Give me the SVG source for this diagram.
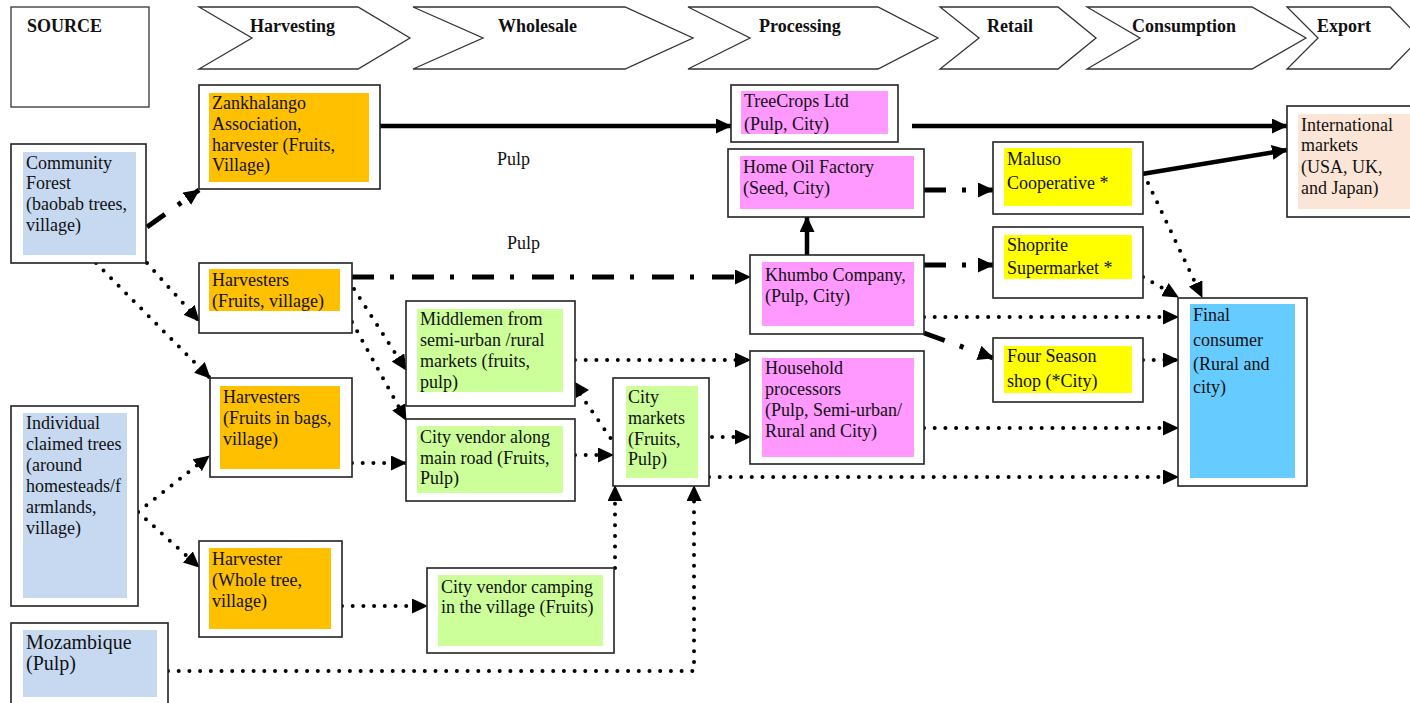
<svg xmlns="http://www.w3.org/2000/svg" width="1410" height="703" viewBox="0 0 1410 703">
<style>
text{font-family:"Liberation Serif","Times New Roman",serif;font-size:18px;fill:#111}
.h{font-weight:bold}
.stage{fill:#fff;stroke:#333;stroke-width:1.3}
.box{fill:#fff;stroke:#222;stroke-width:1.6}
.or{fill:#FFC000}.bl{fill:#C6D9F1}.gr{fill:#CCFF99}.pk{fill:#FF99FF}.ye{fill:#FFFF00}.cy{fill:#66CCFF}.pe{fill:#FBE5D6}
.solid{fill:none;stroke:#000;stroke-width:4.5}
.dd{fill:none;stroke:#000;stroke-width:5;stroke-dasharray:22 16 4 18}
.dot{fill:none;stroke:#000;stroke-width:4;stroke-linecap:round;stroke-dasharray:0 10.7}
</style>
<defs>
<marker id="ah" markerUnits="userSpaceOnUse" viewBox="0 0 16 15" markerWidth="16" markerHeight="15" refX="15" refY="7.5" orient="auto">
<path d="M0,0 L16,7.5 L0,15 z" fill="#000"/>
</marker>
</defs>
<rect width="1410" height="703" fill="#fff"/>

<g id="stages">
<g id="stage-source"><rect class="stage" x="11" y="7" width="138" height="100"/><text class="h" x="27" y="32">SOURCE</text></g>
<g id="stage-harvesting"><polygon class="stage" points="199,7 358,7 410,38 358,69 199,69 252,38"/><text class="h" x="250" y="32">Harvesting</text></g>
<g id="stage-wholesale"><polygon class="stage" points="413,7 625,7 693,38 625,69 413,69 483,38"/><text class="h" x="498" y="32">Wholesale</text></g>
<g id="stage-processing"><polygon class="stage" points="688,7 878,7 938,38 878,69 688,69 750,38"/><text class="h" x="759" y="32">Processing</text></g>
<g id="stage-retail"><polygon class="stage" points="940,7 1058,7 1096,38 1058,69 940,69 979,38"/><text class="h" x="987" y="32">Retail</text></g>
<g id="stage-consumption"><polygon class="stage" points="1087,7 1252,7 1306,38 1252,69 1087,69 1140,38"/><text class="h" x="1132" y="32">Consumption</text></g>
<g id="stage-export"><polygon class="stage" points="1287,7 1390,7 1420,38 1390,69 1287,69 1318,38"/><text class="h" x="1317" y="32">Export</text></g>
</g>

<g id="labels">
<text x="497" y="165">Pulp</text>
<text x="507" y="249">Pulp</text>
</g>

<g id="connectors">
<path class="solid" d="M380,126 L731,126" marker-end="url(#ah)"/>
<path class="solid" d="M912,126 L1287,126" marker-end="url(#ah)"/>
<path class="solid" d="M1142,174 L1287,150" marker-end="url(#ah)"/>
<path class="solid" d="M807,255 L807,217" marker-end="url(#ah)"/>
<path class="dd" d="M147,227 L199,190" marker-end="url(#ah)"/>
<path class="dd" d="M352,277 L750,277" marker-end="url(#ah)"/>
<path class="dd" d="M924,190 L993,190" marker-end="url(#ah)"/>
<path class="dd" d="M924,265 L993,265" marker-end="url(#ah)"/>
<path class="dd" d="M924,333 L993,358" marker-end="url(#ah)"/>
<path class="dot" d="M147,263 L199,321" marker-end="url(#ah)"/>
<path class="dot" d="M96,263 L210,378" marker-end="url(#ah)"/>
<path class="dot" d="M354,289 L406,370" marker-end="url(#ah)"/>
<path class="dot" d="M352,322 L406,420" marker-end="url(#ah)"/>
<path class="dot" d="M352,463 L406,463" marker-end="url(#ah)"/>
<path class="dot" d="M138,512 L209,456" marker-end="url(#ah)"/>
<path class="dot" d="M138,512 L199,567" marker-end="url(#ah)"/>
<path class="dot" d="M342,606 L427,606" marker-end="url(#ah)"/>
<path class="dot" d="M580,394 L614,443"/>
<polygon points="575,382 589,390 576,398" fill="#000"/>
<path class="dot" d="M575,455 L613,455" marker-end="url(#ah)"/>
<path class="dot" d="M615,568 L615,486" marker-end="url(#ah)"/>
<path class="dot" d="M168,671 L694,671 L694,486" marker-end="url(#ah)"/>
<path class="dot" d="M575,360 L750,360" marker-end="url(#ah)"/>
<path class="dot" d="M712,437 L750,437" marker-end="url(#ah)"/>
<path class="dot" d="M709,477 L1178,477" marker-end="url(#ah)"/>
<path class="dot" d="M924,428 L1178,428" marker-end="url(#ah)"/>
<path class="dot" d="M924,317 L1178,317" marker-end="url(#ah)"/>
<path class="dot" d="M1143,360 L1178,360" marker-end="url(#ah)"/>
<path class="dot" d="M1143,277 L1178,297" marker-end="url(#ah)"/>
<path class="dot" d="M1148,183 L1202,297" marker-end="url(#ah)"/>
</g>

<g id="community-forest"><rect class="box" x="11" y="144" width="135" height="119"/><rect class="bl" x="23" y="152" width="113" height="103"/>
<text x="26" y="169">Community</text><text x="26" y="189">Forest</text><text x="26" y="210">(baobab trees,</text><text x="26" y="231">village)</text></g>

<g id="individual-trees"><rect class="box" x="11" y="406" width="127" height="200"/><rect class="bl" x="23" y="413" width="104" height="185"/>
<text x="26" y="429">Individual</text><text x="26" y="450">claimed trees</text><text x="26" y="471">(around</text><text x="26" y="492">homesteads/f</text><text x="26" y="513">armlands,</text><text x="26" y="534">village)</text></g>

<g id="mozambique"><rect class="box" x="11" y="623" width="157" height="90"/><rect class="bl" x="23" y="630" width="134" height="67"/>
<text x="26" y="649" style="font-size:20px">Mozambique</text><text x="26" y="670" style="font-size:20px">(Pulp)</text></g>

<g id="zankhalango"><rect class="box" x="199" y="85" width="181" height="104"/><rect class="or" x="209" y="93" width="160" height="89"/>
<text x="212" y="109">Zankhalango</text><text x="212" y="130">Association,</text><text x="212" y="151">harvester (Fruits,</text><text x="212" y="171">Village)</text></g>

<g id="harvesters-village"><rect class="box" x="199" y="263" width="153" height="70"/><rect class="or" x="209" y="269" width="131" height="42"/>
<text x="212" y="286">Harvesters</text><text x="212" y="307">(Fruits, village)</text></g>

<g id="harvesters-bags"><rect class="box" x="210" y="378" width="142" height="99"/><rect class="or" x="220" y="386" width="120" height="83"/>
<text x="223" y="403">Harvesters</text><text x="223" y="424">(Fruits in bags,</text><text x="223" y="445">village)</text></g>

<g id="harvester-whole-tree"><rect class="box" x="199" y="541" width="143" height="96"/><rect class="or" x="209" y="548" width="122" height="81"/>
<text x="212" y="565">Harvester</text><text x="212" y="586">(Whole tree,</text><text x="212" y="607">village)</text></g>

<g id="middlemen"><rect class="box" x="406" y="301" width="169" height="105"/><rect class="gr" x="417" y="309" width="146" height="83"/>
<text x="420" y="325">Middlemen from</text><text x="420" y="346">semi-urban /rural</text><text x="420" y="367">markets (fruits,</text><text x="420" y="388">pulp)</text></g>

<g id="city-vendor-road"><rect class="box" x="406" y="419" width="169" height="82"/><rect class="gr" x="417" y="426" width="146" height="67"/>
<text x="420" y="443">City vendor along</text><text x="420" y="464">main road (Fruits,</text><text x="420" y="484">Pulp)</text></g>

<g id="city-markets"><rect class="box" x="613" y="378" width="96" height="108"/><rect class="gr" x="626" y="386" width="72" height="92"/>
<text x="628" y="403">City</text><text x="628" y="424">markets</text><text x="628" y="445">(Fruits,</text><text x="628" y="465">Pulp)</text></g>

<g id="city-vendor-camping"><rect class="box" x="427" y="568" width="187" height="85"/><rect class="gr" x="438" y="575" width="165" height="71"/>
<text x="441" y="593">City vendor camping</text><text x="441" y="613">in the village (Fruits)</text></g>

<g id="treecrops"><rect class="box" x="731" y="85" width="167" height="57"/><rect class="pk" x="741" y="91" width="147" height="43"/>
<text x="744" y="107">TreeCrops Ltd</text><text x="744" y="130">(Pulp, City)</text></g>

<g id="home-oil"><rect class="box" x="728" y="149" width="196" height="68"/><rect class="pk" x="740" y="156" width="174" height="53"/>
<text x="743" y="173">Home Oil Factory</text><text x="743" y="194">(Seed, City)</text></g>

<g id="khumbo"><rect class="box" x="750" y="255" width="174" height="79"/><rect class="pk" x="762" y="262" width="152" height="64"/>
<text x="765" y="281">Khumbo Company,</text><text x="765" y="302">(Pulp, City)</text></g>

<g id="household"><rect class="box" x="750" y="351" width="174" height="113"/><rect class="pk" x="762" y="358" width="152" height="99"/>
<text x="765" y="374">Household</text><text x="765" y="395">processors</text><text x="765" y="416">(Pulp, Semi-urban/</text><text x="765" y="437">Rural and City)</text></g>

<g id="maluso"><rect class="box" x="993" y="142" width="150" height="72"/><rect class="ye" x="1004" y="148" width="128" height="58"/>
<text x="1007" y="165">Maluso</text><text x="1007" y="189">Cooperative *</text></g>

<g id="shoprite"><rect class="box" x="993" y="227" width="150" height="71"/><rect class="ye" x="1004" y="235" width="128" height="44"/>
<text x="1007" y="251">Shoprite</text><text x="1007" y="274">Supermarket *</text></g>

<g id="four-season"><rect class="box" x="993" y="338" width="150" height="64"/><rect class="ye" x="1004" y="346" width="128" height="47"/>
<text x="1007" y="362">Four Season</text><text x="1007" y="387">shop (*City)</text></g>

<g id="final-consumer"><rect class="box" x="1178" y="298" width="129" height="188"/><rect class="cy" x="1190" y="304" width="105" height="174"/>
<text x="1193" y="321">Final</text><text x="1193" y="346">consumer</text><text x="1193" y="370">(Rural and</text><text x="1193" y="393">city)</text></g>

<g id="international"><rect class="box" x="1287" y="106" width="130" height="111"/><rect class="pe" x="1298" y="114" width="120" height="95"/>
<text x="1301" y="131">International</text><text x="1301" y="151">markets</text><text x="1301" y="173">(USA, UK,</text><text x="1301" y="194">and Japan)</text></g>
</svg>
